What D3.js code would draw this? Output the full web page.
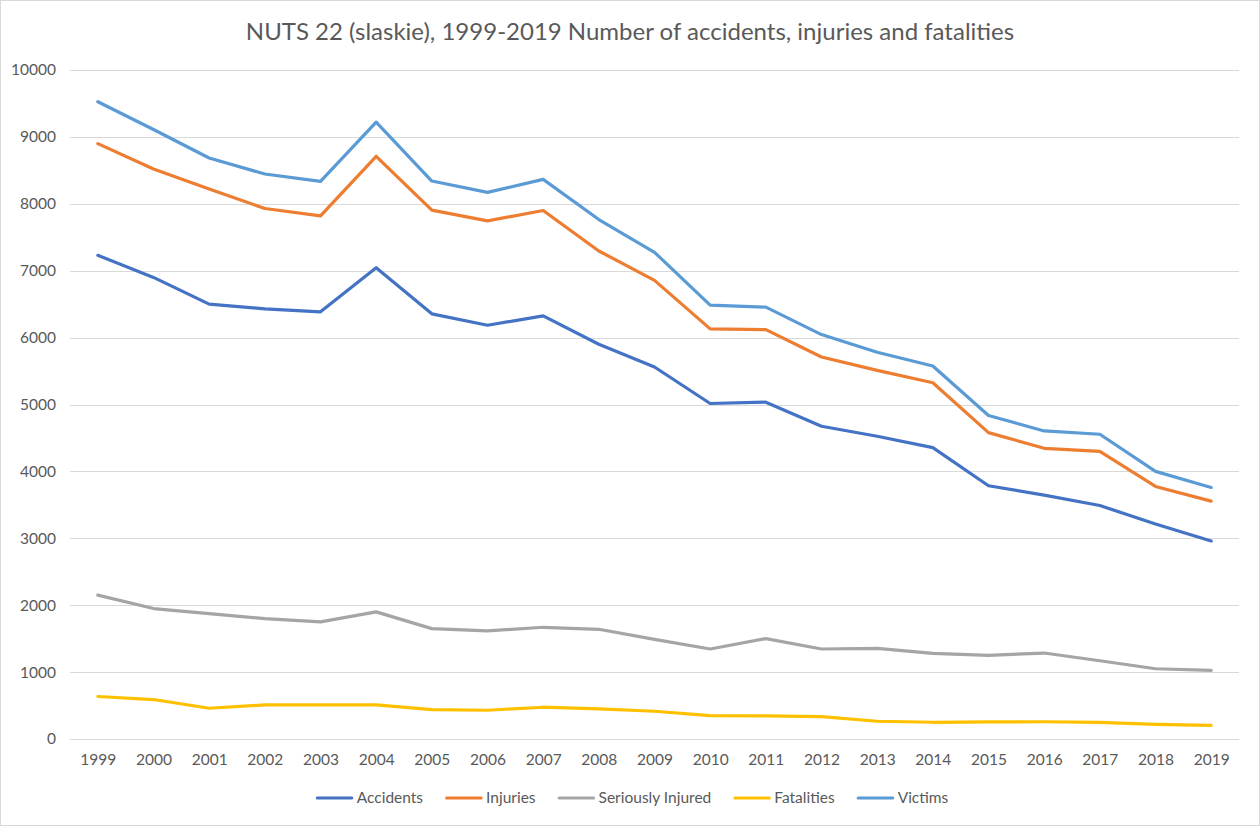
<!DOCTYPE html>
<html>
<head>
<meta charset="utf-8">
<script src="https://cdn.jsdelivr.net/npm/d3@7"></script>
<style>
  html, body { margin: 0; padding: 0; background: #fff; }
  svg { display: block; }
  text { font-family: Lato, "Open Sans", sans-serif; fill: #595959; }
</style>
</head>
<body>
<svg id="chart" width="1260" height="826"></svg>
<script>
const years = ["1999","2000","2001","2002","2003","2004","2005","2006","2007","2008","2009","2010","2011","2012","2013","2014","2015","2016","2017","2018","2019"];
const accidents = [7230,6900,6500,6430,6385,7045,6355,6185,6325,5900,5560,5015,5035,4675,4525,4355,3785,3645,3490,3215,2960];
const injuries  = [8900,8520,8220,7930,7820,8710,7905,7745,7900,7295,6855,6130,6120,5710,5510,5325,4580,4345,4300,3775,3555];
const seriously = [2150,1950,1875,1800,1750,1900,1650,1615,1670,1640,1490,1345,1500,1345,1355,1280,1250,1285,1170,1050,1025];
const fatalities= [635,590,460,510,510,510,440,430,475,450,415,350,345,335,265,250,255,258,248,220,203];
const victims   = [9525,9110,8685,8445,8335,9220,8340,8170,8365,7765,7275,6485,6455,6045,5780,5575,4835,4605,4555,4000,3760];
const yTicks = [0,1000,2000,3000,4000,5000,6000,7000,8000,9000,10000];
const seriesNames = ["Accidents","Injuries","Seriously Injured","Fatalities","Victims"];
const seriesColors = ["#4472C4","#ED7D31","#A5A5A5","#FFC000","#5B9BD5"];
const seriesData = [accidents, injuries, seriously, fatalities, victims];
const title = "NUTS 22 (slaskie), 1999-2019 Number of accidents, injuries and fatalities";

const svg = d3.select("#chart");
svg.append("rect").attr("x",0.5).attr("y",0.5).attr("width",1259).attr("height",825)
  .attr("fill","#fff").attr("stroke","#d9d9d9");

const x = d3.scalePoint().domain(years).range([70, 1239]).padding(0.5);
const y = d3.scaleLinear().domain([0, 10000]).range([739, 70]);

// gridlines
svg.append("g").selectAll("line").data(yTicks).join("line")
  .attr("x1", 70).attr("x2", 1239)
  .attr("y1", d => Math.round(y(d)) + 0.5).attr("y2", d => Math.round(y(d)) + 0.5)
  .attr("stroke", "#d9d9d9").attr("stroke-width", 1);

// y axis labels
const yAxis = d3.axisLeft(y).tickValues(yTicks).tickSize(0).tickPadding(0).tickFormat(d3.format("d"));
const gy = svg.append("g").attr("transform", "translate(56,0)").call(yAxis);
gy.select(".domain").remove();
gy.selectAll("text").style("font-size","15.5px").attr("fill","#595959").style("font-family","Lato, sans-serif");

// x axis labels
const xAxis = d3.axisBottom(x).tickSize(0).tickPadding(0);
const gx = svg.append("g").attr("transform", "translate(0,754)").call(xAxis);
gx.select(".domain").remove();
gx.selectAll("text").style("font-size","15.5px").attr("fill","#595959").style("font-family","Lato, sans-serif");

// lines
const line = d3.line().x((d,i) => x(years[i])).y(d => y(d));
seriesData.forEach((s, k) => {
  svg.append("path").datum(s).attr("d", line)
    .attr("fill","none").attr("stroke", seriesColors[k])
    .attr("stroke-width", 3.2).attr("stroke-linejoin","round").attr("stroke-linecap","round");
});

// title
svg.append("text").attr("x", 630).attr("y", 40).attr("text-anchor","middle")
  .style("font-size","24px").text(title);

// legend
const legend = svg.append("g");
let lx = 0;
seriesNames.forEach((n,k) => {
  const g = legend.append("g");
  g.append("line").attr("x1",1.6).attr("x2",36).attr("y1",0).attr("y2",0)
    .attr("stroke",seriesColors[k]).attr("stroke-width",3.2).attr("stroke-linecap","round");
  const t = g.append("text").attr("x",41).attr("y",5).style("font-size","15.5px").text(n);
  const w = 41 + t.node().getComputedTextLength();
  g.attr("transform", `translate(${lx},0)`);
  lx += w + 22;
});
const totalW = lx - 22;
legend.attr("transform", `translate(${632 - totalW/2},798)`);
</script>
</body>
</html>
